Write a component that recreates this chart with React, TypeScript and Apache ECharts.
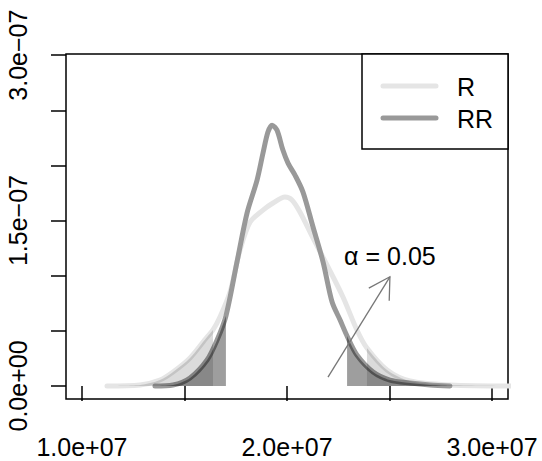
import React, { useEffect, useRef } from "react";
import * as echarts from "echarts";

// ---- data ----
const rX = [1.122e7, 1.283e7, 1.380e7, 1.444e7, 1.527e7, 1.610e7, 1.639e7, 1.673e7, 1.722e7, 1.771e7, 1.820e7, 1.883e7, 1.932e7, 1.990e7, 2.024e7, 2.063e7, 2.127e7, 2.195e7, 2.273e7, 2.341e7, 2.390e7, 2.488e7, 2.600e7, 2.795e7, 3.100e7];
const rY = [0, 0.9e-9, 5.4e-9, 1.27e-8, 2.54e-8, 4.44e-8, 5.08e-8, 6.25e-8, 8.52e-8, 1.233e-7, 1.486e-7, 1.595e-7, 1.659e-7, 1.713e-7, 1.686e-7, 1.577e-7, 1.341e-7, 1.097e-7, 8.07e-8, 5.08e-8, 3.44e-8, 1.45e-8, 4.5e-9, 9e-10, 0];

const rrX = [1.356e7, 1.444e7, 1.527e7, 1.610e7, 1.659e7, 1.702e7, 1.756e7, 1.805e7, 1.854e7, 1.883e7, 1.907e7, 1.927e7, 1.951e7, 1.980e7, 2.005e7, 2.039e7, 2.078e7, 2.127e7, 2.176e7, 2.220e7, 2.259e7, 2.293e7, 2.341e7, 2.420e7, 2.502e7, 2.600e7, 2.698e7, 2.795e7];
const rrY = [0, 0.9e-9, 7.3e-9, 2.36e-8, 4.17e-8, 6.34e-8, 1.124e-7, 1.568e-7, 1.867e-7, 2.112e-7, 2.302e-7, 2.365e-7, 2.320e-7, 2.139e-7, 2.021e-7, 1.912e-7, 1.758e-7, 1.441e-7, 1.124e-7, 7.61e-8, 5.98e-8, 4.53e-8, 2.81e-8, 1.27e-8, 5.4e-9, 2.7e-9, 9e-10, 0];

const rQuantiles = [1.639e7, 2.390e7];
const rrQuantiles = [1.702e7, 2.293e7];

const xTickValues = [1.0e7, 1.5e7, 2.0e7, 2.5e7, 3.0e7];
const xLabelValues = [1.0e7, 2.0e7, 3.0e7];
const xLabels = ["1.0e+07", "2.0e+07", "3.0e+07"];
const yTickValues = [0, 5e-8, 1e-7, 1.5e-7, 2e-7, 2.5e-7, 3e-7];
const yLabelValues = [0, 1.5e-7, 3e-7];
const yLabels = ["0.0e+00", "1.5e\u221207", "3.0e\u221207"];

const seriesNames = ["R", "RR"];
const arrowFrom = [2.2e7, 8e-9];
const arrowTo = [2.502e7, 9.9e-8];
const alphaText = "\u03b1 = 0.05";
const alphaPos = [2.502e7, 1.18e-7];

const FONT = "'Liberation Sans', Arial, Helvetica, sans-serif";

function pairs(xs: number[], ys: number[]) {
  return xs.map((x, i) => [x, ys[i]]);
}

export default function App() {
  const ref = useRef<HTMLDivElement>(null);
  useEffect(() => {
    if (!ref.current) return;
    const chart = echarts.init(ref.current, null, { renderer: "svg" });
    const rData = pairs(rX, rY);
    const rrData = pairs(rrX, rrY);
    const rLeft = rData.filter((p) => p[0] <= rQuantiles[0]);
    const rRight = rData.filter((p) => p[0] >= rQuantiles[1]);
    const rrLeft = rrData.filter((p) => p[0] <= rrQuantiles[0]);
    const rrRight = rrData.filter((p) => p[0] >= rrQuantiles[1]);

    const fmt = (vals: number[], labels: string[], tol: number) => (v: number) => {
      const i = vals.findIndex((x) => Math.abs(x - v) < tol);
      return i >= 0 ? labels[i] : "";
    };

    const lineSeries = (name: string, data: number[][], color: string) => ({
      name,
      type: "line",
      data,
      smooth: 0.3,
      showSymbol: false,
      symbol: "none",
      z: 2,
      lineStyle: { color, width: 5, cap: "round", join: "round" },
      itemStyle: { color },
    });
    const tailSeries = (data: number[][], color: string) => ({
      type: "line",
      data,
      smooth: 0.3,
      showSymbol: false,
      symbol: "none",
      z: 3,
      silent: true,
      lineStyle: { width: 0, opacity: 0 },
      areaStyle: { color, opacity: 1 },
    });

    chart.setOption({
      animation: false,
      grid: {
        left: 66,
        top: 54,
        width: 442,
        height: 345,
        show: true,
        borderColor: "#000",
        borderWidth: 1.5,
        backgroundColor: "transparent",
      },
      xAxis: {
        type: "value",
        min: 9.22e6,
        max: 3.078e7,
        axisLine: { show: false },
        splitLine: { show: false },
        axisTick: {
          show: true,
          length: 15,
          customValues: xTickValues,
          lineStyle: { color: "#000", width: 1.5 },
        },
        axisLabel: {
          customValues: xLabelValues,
          formatter: fmt(xLabelValues, xLabels, 1),
          fontSize: 25,
          lineHeight: 25,
          fontFamily: FONT,
          color: "#000",
          margin: 35,
        },
      },
      yAxis: {
        type: "value",
        min: -1.18e-8,
        max: 3.01e-7,
        axisLine: { show: false },
        splitLine: { show: false },
        axisTick: {
          show: true,
          length: 15,
          customValues: yTickValues,
          lineStyle: { color: "#000", width: 1.5 },
        },
        axisLabel: {
          customValues: yLabelValues,
          formatter: fmt(yLabelValues, yLabels, 1e-12),
          rotate: 90,
          fontSize: 25,
          lineHeight: 25,
          fontFamily: FONT,
          color: "#000",
          margin: 36,
        },
      },
      series: [
        lineSeries(seriesNames[0], rData, "#e5e5e5"),
        lineSeries(seriesNames[1], rrData, "#999999"),
        tailSeries(rLeft, "rgba(0,0,0,0.14)"),
        tailSeries(rRight, "rgba(0,0,0,0.14)"),
        tailSeries(rrLeft, "rgba(0,0,0,0.38)"),
        tailSeries(rrRight, "rgba(0,0,0,0.38)"),
        {
          type: "custom",
          coordinateSystem: "cartesian2d",
          clip: false,
          silent: true,
          z: 5,
          data: [[arrowFrom[0], arrowFrom[1], arrowTo[0], arrowTo[1], alphaPos[0], alphaPos[1]]],
          encode: { x: [0, 2, 4], y: [1, 3, 5] },
          renderItem: (params: any, api: any) => {
            const p0 = api.coord([api.value(0), api.value(1)]);
            const p1 = api.coord([api.value(2), api.value(3)]);
            const pt = api.coord([api.value(4), api.value(5)]);
            const ang = Math.atan2(p0[1] - p1[1], p0[0] - p1[0]);
            const L = 24;
            const a1 = ang + Math.PI / 6;
            const a2 = ang - Math.PI / 6;
            const h1 = [p1[0] + L * Math.cos(a1), p1[1] + L * Math.sin(a1)];
            const h2 = [p1[0] + L * Math.cos(a2), p1[1] + L * Math.sin(a2)];
            const stroke = { stroke: "#777777", lineWidth: 1.3, fill: "none" };
            return {
              type: "group",
              children: [
                { type: "line", shape: { x1: p0[0], y1: p0[1], x2: p1[0], y2: p1[1] }, style: stroke },
                { type: "polyline", shape: { points: [h1, p1, h2] }, style: stroke },
                {
                  type: "text",
                  style: {
                    text: alphaText,
                    x: pt[0],
                    y: pt[1],
                    align: "center",
                    verticalAlign: "middle",
                    fontSize: 25,
                    fontFamily: FONT,
                    fill: "#000",
                  },
                },
              ],
            };
          },
        },
      ],
      graphic: [
        {
          type: "group",
          z: 10,
          children: [
            { type: "rect", shape: { x: 362, y: 54, width: 146, height: 95 }, style: { fill: "#fff", stroke: "#000", lineWidth: 1.5 } },
            { type: "line", shape: { x1: 383, y1: 86, x2: 436, y2: 86 }, style: { stroke: "#e5e5e5", lineWidth: 5, lineCap: "round" } },
            { type: "line", shape: { x1: 383, y1: 118, x2: 436, y2: 118 }, style: { stroke: "#999999", lineWidth: 5, lineCap: "round" } },
            { type: "text", style: { text: seriesNames[0], x: 457, y: 87, verticalAlign: "middle", fontSize: 25, fontFamily: FONT, fill: "#000" } },
            { type: "text", style: { text: seriesNames[1], x: 457, y: 119, verticalAlign: "middle", fontSize: 25, fontFamily: FONT, fill: "#000" } },
          ],
        },
      ],
    });
    return () => chart.dispose();
  }, []);
  return <div ref={ref} style={{ position: "fixed", left: 0, top: 0, width: 542, height: 461, background: "#fff" }} />;
}
